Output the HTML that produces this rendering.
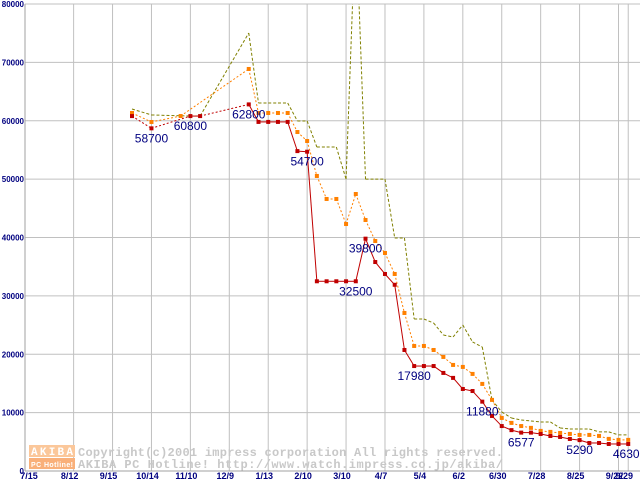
<!DOCTYPE html>
<html><head><meta charset="utf-8"><style>body{margin:0;background:#fff}svg{display:block}</style></head>
<body>
<svg id="chart" width="640" height="480" xmlns="http://www.w3.org/2000/svg" font-family="Liberation Sans, sans-serif">
<defs><clipPath id="plot"><rect x="25" y="4" width="615" height="467"/></clipPath></defs>
<g id="grid"></g>
<g id="wm">
 <rect x="29" y="445" width="46" height="12" fill="#fbc79a"/>
 <rect x="29" y="458" width="46" height="11" fill="#f9b07a"/>
 <text x="31" y="455" font-family="Liberation Mono, monospace" font-weight="bold" font-size="11" fill="#fff" textLength="42">AKIBA</text>
 <text x="31" y="467" font-family="Liberation Sans, sans-serif" font-weight="bold" font-size="7" fill="#fff" textLength="42">PC Hotline!</text>
 <text x="78" y="456" font-family="Liberation Mono, monospace" font-weight="bold" font-size="12" fill="#c8c8c8" textLength="425">Copyright(c)2001 impress corporation All rights reserved.</text>
 <text x="78" y="468" font-family="Liberation Mono, monospace" font-weight="bold" font-size="12" fill="#c8c8c8" textLength="425">AKIBA PC Hotline!  http://www.watch.impress.co.jp/akiba/</text>
</g>
<g id="series" clip-path="url(#plot)"></g>
<g id="labels"></g>
</svg>
<script>
const yTicks = [0,10000,20000,30000,40000,50000,60000,70000,80000];
const xTickLabels = ["7/15","8/12","9/15","10/14","11/10","12/9","1/13","2/10","3/10","4/7","5/4","6/2","6/30","7/28","8/25","9/22","9/29"];
const xTickWeeks = [-11,-6,-2,2,6,10,14,18,22,26,30,34,38,42,46,50,51];
const lowWeeks = [0,2,6,7,12,13,14,15,16,17,18,19,20,21,22,23,24,25,26,27,28,29,30,31,32,33,34,35,36,37,38,39,40,41,42,43,44,45,46,47,48,49,50,51];
const lowValues = [60800,58700,60800,60800,62800,59800,59800,59800,59800,54800,54700,32500,32500,32500,32500,32500,39800,35800,33750,31900,20730,17980,17980,17980,16800,15950,14050,13700,11880,9430,7700,7000,6577,6577,6340,6000,5830,5490,5290,4800,4800,4630,4630,4630];
const avgWeeks = [0,2,5,12,13,14,15,16,17,18,19,20,21,22,23,24,25,26,27,28,29,30,31,32,33,34,35,36,37,38,39,40,41,42,43,44,45,46,47,48,49,50,51];
const avgValues = [61330,59790,60810,68870,61330,61330,61330,61330,58070,56530,50540,46600,46600,42310,47450,43000,39400,37350,33750,27070,21420,21420,20730,19540,18170,17830,16630,14920,12180,9090,8240,7700,7390,6870,6700,6520,6350,6180,6180,6010,5500,5330,5330];
const highWeeks = [0,2,6,7,12,13,14,15,16,17,18,19,20,21,22,23,24,25,26,27,28,29,30,31,32,33,34,35,36,37,38,39,40,41,42,43,44,45,46,47,48,49,50,51];
const highValues = [62010,60990,60810,60810,75030,63040,63040,63040,63040,59960,59960,55500,55500,55500,50000,95000,50000,50000,50000,39920,39920,26040,26040,25350,23300,22960,25010,22100,21240,12170,10110,9080,8740,8570,8400,8400,7370,7200,7200,7200,6700,6700,6180,6180];
const annotIdx = [1,2,4,10,16,15,21,28,32,38,43];
const annotText = ["58700","60800","62800","54700","39800","32500","17980","11880","6577","5290","4630"];

const NS="http://www.w3.org/2000/svg";
const x = w => 132 + w*9.73;
const y = v => 4 + (80000-v)*467/80000;
function mk(tag, attrs, parent){const e=document.createElementNS(NS,tag);for(const k in attrs)e.setAttribute(k,attrs[k]);parent.appendChild(e);return e;}
const grid=document.getElementById('grid'), series=document.getElementById('series'), labels=document.getElementById('labels');

yTicks.forEach(v=>{
  const l=mk('line',{x1:25,x2:640,y1:y(v),y2:y(v),stroke:'#c0c0c0','stroke-width':1},grid);
  
  
  const t=mk('text',{x:24,y:y(v)+3,'text-anchor':'end','font-size':8,'font-weight':'bold',fill:'#000080'},grid);
  t.textContent=v;
  
  
});
xTickWeeks.forEach((w,i)=>{
  const gx = i===0 ? 25 : x(w);
  const l=mk('line',{x1:gx,x2:gx,y1:4,y2:471,stroke:'#c0c0c0','stroke-width':1},grid);
  
  
  const t=mk('text',{x:gx+(i===0?4:-4),y:479,'text-anchor':'middle','font-size':9,'font-weight':'bold',fill:'#000080'},grid);
  t.textContent=xTickLabels[i];
  
  
});
mk('line',{x1:25,x2:25,y1:4,y2:471,stroke:'#a0a0a0'},grid);
mk('line',{x1:25,x2:640,y1:471,y2:471,stroke:'#a0a0a0'},grid);

function drawLine(weeks, vals, color, dash, name, gapDash){
  for(let i=1;i<weeks.length;i++){
    const d = gapDash ? (weeks[i]-weeks[i-1]>1 ? '2,2' : null) : dash;
    const a={x1:x(weeks[i-1]),y1:y(vals[i-1]),x2:x(weeks[i]),y2:y(vals[i]),stroke:color,'stroke-width':1};
    if(d)a['stroke-dasharray']=d;
    const l=mk('line',a,series);
    
    
  }
}
drawLine(highWeeks,highValues,'#808000','3,2','high-price');
drawLine(avgWeeks,avgValues,'#ff8000','2,2','average-price');
drawLine(lowWeeks,lowValues,'#c00000',null,'low-price',true);

avgWeeks.forEach((w,i)=>{
  const r=mk('rect',{x:x(w)-2,y:y(avgValues[i])-2,width:4,height:4,fill:'#ff8000'},series);
  
  
});
lowWeeks.forEach((w,i)=>{
  const r=mk('rect',{x:x(w)-2,y:y(lowValues[i])-2,width:4,height:4,fill:'#c00000'},series);
  
  
});
annotIdx.forEach((k,i)=>{
  const t=mk('text',{x:x(lowWeeks[k])+(i===annotIdx.length-1?-2:0),y:y(lowValues[k])+14,'text-anchor':'middle','font-size':12,fill:'#000080'},labels);
  t.textContent=annotText[i];
  
  
});
</script>
</body></html>
